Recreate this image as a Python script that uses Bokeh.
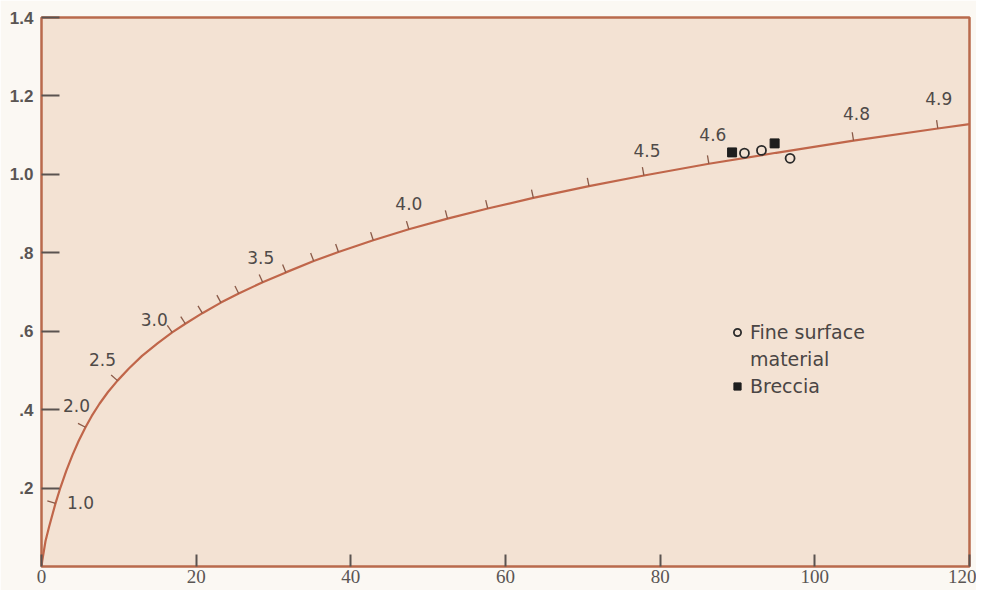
import numpy as np
from bokeh.plotting import figure
from bokeh.models import Range1d, FixedTicker, ColumnDataSource, Legend, LegendItem
from bokeh.core.properties import value
from bokeh.embed import file_html
from bokeh.resources import INLINE

# ---- data ----
x_ticks = [0, 20, 40, 60, 80, 100, 120]
y_ticks = [0.2, 0.4, 0.6, 0.8, 1.0, 1.2, 1.4]
y_tick_labels = [".2", ".4", ".6", ".8", "1.0", "1.2", "1.4"]

curve_x = [0, 0.09, 0.52, 1.0, 1.81, 2.46, 3.2, 4.0, 4.8, 5.69, 6.5, 7.5, 8.6, 9.83, 11.3,
           13.0, 15.0, 16.9, 18.6, 20.8, 23.2, 25.5, 28.6, 31.6, 35.2, 38.4, 42.9, 47.5,
           52.5, 57.7, 63.6, 70.8, 77.9, 86.3, 95.0, 105.0, 115.9, 120.0]
curve_y = [0, 0.014, 0.065, 0.1025, 0.161, 0.202, 0.244, 0.284, 0.320, 0.355, 0.384, 0.415,
           0.445, 0.474, 0.505, 0.537, 0.569, 0.597, 0.619, 0.646, 0.673, 0.696, 0.725,
           0.750, 0.779, 0.802, 0.832, 0.860, 0.887, 0.913, 0.940, 0.970, 0.997, 1.027,
           1.055, 1.086, 1.117, 1.128]

# scale marks along the curve (x position of each mark) and their labels
mark_x = [1.81, 5.69, 9.83, 16.9, 18.6, 20.8, 23.2, 25.5, 28.6, 31.6, 35.2, 38.4, 42.9,
          47.5, 52.5, 57.7, 63.6, 70.8, 77.9, 86.3, 105.0, 115.9]
mark_labels = ["1.0", "2.0", "2.5", "3.0", "", "", "", "", "3.5", "", "", "", "",
               "4.0", "", "", "", "", "4.5", "4.6", "4.8", "4.9"]

fine_x = [90.9, 93.1, 96.8]
fine_y = [1.054, 1.061, 1.041]
breccia_x = [89.3, 94.8]
breccia_y = [1.056, 1.079]

legend_labels = ["Fine surface", "material", "Breccia"]

# ---- layout / style ----
W, H = 976, 590
ML, MR, MT, MB = 41, 7, 17, 24
frame_w = W - ML - MR
frame_h = H - MT - MB
sx = frame_w / 120.0
sy = frame_h / 1.4
BG = "#f3e2d3"

# label offsets in screen px (dx, dy-down) relative to the mark
label_offsets = {"1.0": (25, -1), "2.0": (-9, -22), "2.5": (-15, -21), "3.0": (-18, -13),
                 "3.5": (-2, -25), "4.0": (0, -26), "4.5": (3, -25), "4.6": (4, -29),
                 "4.8": (3, -27), "4.9": (1, -30)}

cx = np.array(curve_x)
cy = np.array(curve_y)
mx = np.array(mark_x)
my = np.interp(mx, cx, cy)
h = 0.3
dyd = (np.interp(mx + h, cx, cy) - np.interp(mx - h, cx, cy)) / (2 * h)
tx, ty = sx * 1.0, sy * dyd
nrm = np.hypot(tx, ty)
tx, ty = tx / nrm, ty / nrm
nx, ny = -ty, tx  # normal to the upper-left, screen units
L = 8.5
x1 = mx + L * nx / sx
y1 = my + L * ny / sy

p = figure(width=W, height=H, x_range=Range1d(0, 120), y_range=Range1d(0, 1.4),
           output_backend="svg", toolbar_location=None,
           min_border_left=ML, min_border_right=MR, min_border_top=MT, min_border_bottom=MB)

p.background_fill_color = BG
p.border_fill_color = "#fbf8f3"
p.outline_line_color = "#b96a4c"
p.outline_line_width = 2.5
p.xgrid.grid_line_color = None
p.ygrid.grid_line_color = None

p.xaxis.ticker = FixedTicker(ticks=x_ticks)
p.yaxis.ticker = FixedTicker(ticks=y_ticks)
p.yaxis.major_label_overrides = {t: l for t, l in zip(y_ticks, y_tick_labels)}
for ax in (p.xaxis, p.yaxis):
    ax.axis_line_color = None
    ax.major_tick_out = 0
    ax.minor_tick_line_color = None
    ax.major_tick_line_color = "#5a5350"
    ax.major_tick_line_width = 2
    ax.major_label_text_color = "#5a5553"
p.yaxis.major_tick_in = 18
p.xaxis.major_tick_in = 12
p.yaxis.major_label_text_font = "Liberation Sans"
p.yaxis.major_label_text_font_style = "bold"
p.yaxis.major_label_text_font_size = "17px"
p.xaxis.major_label_text_font = "Liberation Sans Narrow"
p.xaxis.major_label_text_font_size = "19px"
p.xaxis.major_label_standoff = 3
p.yaxis.major_label_standoff = 8

p.line(curve_x, curve_y, line_color="#c0664a", line_width=2.2)

p.segment(x0=mx, y0=my, x1=x1, y1=y1, line_color="#8a5a48", line_width=1.3)

lab_idx = [i for i, l in enumerate(mark_labels) if l]
lsrc = ColumnDataSource(dict(
    x=[mark_x[i] for i in lab_idx],
    y=[float(my[i]) for i in lab_idx],
    t=[mark_labels[i] for i in lab_idx],
    xo=[label_offsets[mark_labels[i]][0] for i in lab_idx],
    yo=[label_offsets[mark_labels[i]][1] for i in lab_idx],
))
p.text(x="x", y="y", text="t", x_offset="xo", y_offset="yo", source=lsrc,
       text_align="center", text_baseline="middle", text_font=value("DejaVu Sans"),
       text_font_size="17px", text_color="#4f4a48")

r_fine = p.scatter(fine_x, fine_y, marker="circle", size=9, fill_color=BG,
                   line_color="#2a2a2a", line_width=1.8)
r_brec = p.scatter(breccia_x, breccia_y, marker="square", size=9, fill_color="#1e1e1e",
                   line_color="#1e1e1e")
r_blank = p.scatter([], [], marker="circle", size=1, fill_alpha=0, line_alpha=0)

legend = Legend(items=[LegendItem(label=legend_labels[0], renderers=[r_fine]),
                       LegendItem(label=legend_labels[1], renderers=[r_blank]),
                       LegendItem(label=legend_labels[2], renderers=[r_brec])],
                location=(687, 169), background_fill_alpha=0, border_line_alpha=0,
                label_text_font="DejaVu Sans", label_text_font_size="19px",
                label_text_color="#4a4544", glyph_width=18, glyph_height=18,
                label_standoff=4, spacing=5, padding=0, margin=0, label_height=21)
p.add_layout(legend)

open("out.html", "w").write(file_html(p, INLINE))
